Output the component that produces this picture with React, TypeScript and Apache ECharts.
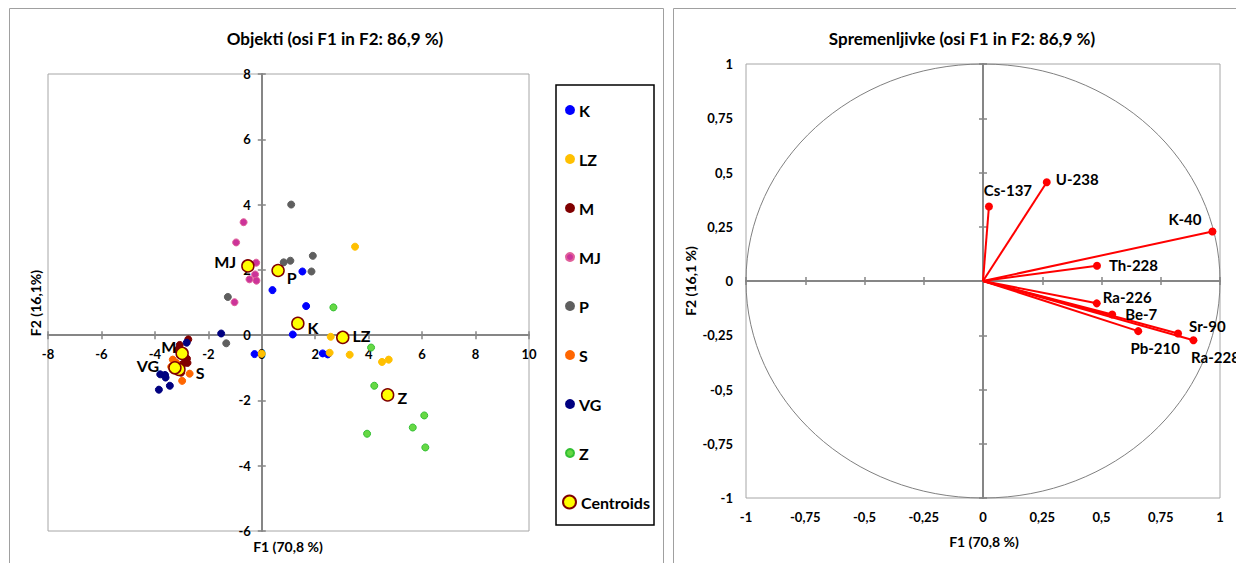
import React, { useEffect, useRef } from 'react';
import * as echarts from 'echarts';

const FONT = 'Lato, "Open Sans", sans-serif';

// ---------- Left chart: observations (F1, F2) ----------
const groupNames = ['K', 'LZ', 'M', 'MJ', 'P', 'S', 'VG', 'Z'];
const ptsK = [[1.52, 1.95], [0.4, 1.38], [1.66, 0.89], [1.16, 0.02], [-0.27, -0.58], [2.28, -0.56], [2.47, -0.59]];
const ptsLZ = [[3.49, 2.71], [2.58, -0.05], [2.54, -0.54], [3.29, -0.6], [4.5, -0.82], [4.75, -0.75], [0.0, -0.57]];
const ptsM = [[-2.75, -0.13], [-3.07, -0.3], [-2.8, -0.72], [-2.78, -0.85], [-2.95, -0.88], [-3.02, -1.15], [-3.15, -0.45]];
const ptsMJ = [[-0.68, 3.46], [-0.96, 2.84], [-0.21, 2.22], [-0.25, 1.86], [-0.46, 1.71], [-0.2, 1.67], [-1.02, 1.01]];
const ptsP = [[1.1, 4.0], [1.91, 2.43], [1.86, 1.95], [1.07, 2.28], [0.82, 2.23], [-1.27, 1.17], [-1.33, -0.25]];
const ptsS = [[-3.33, -0.75], [-3.39, -0.97], [-2.7, -1.18], [-2.98, -1.4], [-3.2, -0.85]];
const ptsVG = [[-1.52, 0.05], [-2.81, -0.23], [-3.8, -1.2], [-3.62, -1.22], [-3.6, -1.3], [-3.44, -1.55], [-3.85, -1.67]];
const ptsZ = [[2.68, 0.85], [4.09, -0.38], [4.21, -1.55], [3.94, -3.02], [6.08, -2.46], [5.65, -2.83], [6.12, -3.44]];
const groupPoints = [ptsK, ptsLZ, ptsM, ptsMJ, ptsP, ptsS, ptsVG, ptsZ];
const groupColors = ['#0000FF', '#FFC000', '#800000', '#CC3399', '#5F5F5F', '#FF6600', '#000080', '#66D844'];
const groupBorders = ['#0000FF', '#FFC000', '#800000', '#E0609A', '#5F5F5F', '#FF6600', '#000080', '#33C033'];

const centroidNames = ['K', 'LZ', 'M', 'MJ', 'P', 'S', 'VG', 'Z'];
const centroidF1 = [1.35, 3.03, -2.98, -0.52, 0.61, -3.1, -3.25, 4.71];
const centroidF2 = [0.36, -0.07, -0.56, 2.12, 1.98, -1.05, -1.0, -1.83];

// ---------- Right chart: variables (correlation circle) ----------
const varNames = ['Cs-137', 'U-238', 'K-40', 'Th-228', 'Ra-226', 'Be-7', 'Pb-210', 'Sr-90', 'Ra-228'];
const varF1 = [0.025, 0.269, 0.968, 0.481, 0.48, 0.545, 0.655, 0.823, 0.888];
const varF2 = [0.343, 0.455, 0.228, 0.07, -0.103, -0.154, -0.231, -0.242, -0.273];

const leftTitle = 'Objekti (osi F1 in F2: 86,9 %)';
const rightTitle = 'Spremenljivke (osi F1 in F2: 86,9 %)';
const leftXName = 'F1 (70,8 %)';
const leftYName = 'F2 (16,1%)';
const rightXName = 'F1 (70,8 %)';
const rightYName = 'F2 (16,1 %)';

const AX = '#868686';
const tickLabel = { color: '#000', fontWeight: 'bold', fontSize: 13, fontFamily: FONT } as any;
const fmtComma = (v: number) => String(v).replace('.', ',');

const centroidLabelCfg: Record<string, any> = {
  K: { position: 'right', offset: [-2, 4] },
  LZ: { position: 'right', offset: [-2, -2] },
  M: { position: 'left', offset: [6, -7] },
  MJ: { position: 'left', offset: [0, -4] },
  P: { position: 'right', offset: [-3, 7] },
  S: { position: 'right', offset: [5, 3] },
  VG: { position: 'left', offset: [-4, -2] },
  Z: { position: 'right', offset: [-2, 3] },
};

const varLabelCfg: Record<string, any> = {
  'Cs-137': { position: 'top', offset: [19, 0] },
  'U-238': { position: 'right', offset: [0, -3] },
  'K-40': { position: 'left', offset: [-2, -13] },
  'Th-228': { position: 'right', offset: [3, -1] },
  'Ra-226': { position: 'right', offset: [-3, -6] },
  'Be-7': { position: 'right', offset: [4, 0] },
  'Pb-210': { position: 'bottom', offset: [17, 0] },
  'Sr-90': { position: 'right', offset: [2, -8] },
  'Ra-228': { position: 'bottom', offset: [22, 0] },
};

function valueAxisBase(extra: any) {
  return {
    type: 'value',
    splitLine: { show: false },
    ...extra,
  };
}

const LEFT_GRID = { left: 48, top: 74, width: 481, height: 457 };
const RIGHT_GRID = { left: 746, top: 64, width: 474, height: 434 };

export default function App() {
  const ref = useRef<HTMLDivElement>(null);
  useEffect(() => {
    if (!ref.current) return;
    const chart = echarts.init(ref.current, null, { renderer: 'svg' });

    const leftX = { gridIndex: 0, min: -8, max: 10, interval: 2 };
    const leftY = { gridIndex: 0, min: -6, max: 8, interval: 2 };
    const rightX = { gridIndex: 1, min: -1, max: 1, interval: 0.25 };
    const rightY = { gridIndex: 1, min: -1, max: 1, interval: 0.25 };
    const tickStyle = { show: true, length: 4, lineStyle: { color: AX, width: 1.5 } };

    const xAxis = [
      // 0: left chart zero line, ticks down
      valueAxisBase({
        id: 'x0', ...leftX, position: 'bottom',
        axisLine: { show: true, onZero: true, onZeroAxisIndex: 0, lineStyle: { color: AX, width: 2 } },
        axisTick: tickStyle,
        axisLabel: { show: false },
      }),
      // 1: left chart zero line, ticks up
      valueAxisBase({
        id: 'x1', ...leftX, position: 'top',
        axisLine: { show: false, onZero: true, onZeroAxisIndex: 0 },
        axisTick: tickStyle,
        axisLabel: { show: false },
      }),
      // 2: right chart, labels at bottom
      valueAxisBase({
        id: 'x2', ...rightX, position: 'bottom',
        axisLine: { show: false, onZero: false },
        axisTick: { show: false },
        axisLabel: { ...tickLabel, margin: 12, formatter: fmtComma },
      }),
      // 3: right chart zero line, ticks down
      valueAxisBase({
        id: 'x3', ...rightX, position: 'bottom',
        axisLine: { show: true, onZero: true, onZeroAxisIndex: 2, lineStyle: { color: AX, width: 2 } },
        axisTick: tickStyle,
        axisLabel: { show: false },
      }),
      // 4: right chart zero line, ticks up
      valueAxisBase({
        id: 'x4', ...rightX, position: 'top',
        axisLine: { show: false, onZero: true, onZeroAxisIndex: 2 },
        axisTick: tickStyle,
        axisLabel: { show: false },
      }),
      // 5: left chart labels, shifted to the zero line below
      valueAxisBase({
        id: 'x5', ...leftX, position: 'bottom', offset: 0,
        axisLine: { show: false, onZero: false },
        axisTick: { show: false },
        axisLabel: { ...tickLabel, margin: 12 },
      }),
    ];
    const yAxis = [
      valueAxisBase({
        id: 'y0', ...leftY, position: 'left',
        axisLine: { show: true, onZero: true, onZeroAxisIndex: 0, lineStyle: { color: AX, width: 2 } },
        axisTick: tickStyle,
        axisLabel: { show: false },
      }),
      valueAxisBase({
        id: 'y1', ...leftY, position: 'right',
        axisLine: { show: false, onZero: true, onZeroAxisIndex: 0 },
        axisTick: tickStyle,
        axisLabel: { show: false },
      }),
      valueAxisBase({
        id: 'y2', ...rightY, position: 'left',
        axisLine: { show: false, onZero: false },
        axisTick: { show: false },
        axisLabel: { ...tickLabel, margin: 13, formatter: fmtComma },
      }),
      valueAxisBase({
        id: 'y3', ...rightY, position: 'left',
        axisLine: { show: true, onZero: true, onZeroAxisIndex: 2, lineStyle: { color: AX, width: 2 } },
        axisTick: tickStyle,
        axisLabel: { show: false },
      }),
      valueAxisBase({
        id: 'y4', ...rightY, position: 'right',
        axisLine: { show: false, onZero: true, onZeroAxisIndex: 2 },
        axisTick: tickStyle,
        axisLabel: { show: false },
      }),
      valueAxisBase({
        id: 'y5', ...leftY, position: 'left', offset: 0,
        axisLine: { show: false, onZero: false },
        axisTick: { show: false },
        axisLabel: { ...tickLabel, margin: 11 },
      }),
    ];

    const groupSeries = groupNames.map((n, i) => ({
      type: 'scatter',
      name: n,
      xAxisIndex: 0,
      yAxisIndex: 0,
      data: groupPoints[i],
      symbol: 'circle',
      symbolSize: 7,
      itemStyle: { color: groupColors[i], borderColor: groupBorders[i], borderWidth: 1, opacity: 1 },
      z: 3,
    }));

    const centroidSeries = {
      type: 'scatter',
      name: 'Centroids',
      xAxisIndex: 0,
      yAxisIndex: 0,
      symbol: 'circle',
      symbolSize: 12,
      itemStyle: { color: '#FFFF00', borderColor: '#800000', borderWidth: 1.5, opacity: 1 },
      z: 4,
      data: centroidNames.map((n, i) => ({
        name: n,
        value: [centroidF1[i], centroidF2[i]],
        label: {
          show: true,
          formatter: n,
          distance: 5,
          color: '#000',
          fontWeight: 'bold',
          fontSize: 16,
          fontFamily: FONT,
          ...centroidLabelCfg[n],
        },
      })),
    };

    const vectorSeries = {
      type: 'lines',
      coordinateSystem: 'cartesian2d',
      xAxisIndex: 2,
      yAxisIndex: 2,
      silent: true,
      symbol: 'none',
      lineStyle: { color: '#FF0000', width: 2, opacity: 1 },
      z: 3,
      data: varNames.map((n, i) => ({ coords: [[0, 0], [varF1[i], varF2[i]]] })),
    };

    const varPointSeries = {
      type: 'scatter',
      name: 'vars',
      xAxisIndex: 2,
      yAxisIndex: 2,
      symbol: 'circle',
      symbolSize: 8,
      itemStyle: { color: '#FF0000', opacity: 1 },
      z: 4,
      data: varNames.map((n, i) => ({
        name: n,
        value: [varF1[i], varF2[i]],
        label: {
          show: true,
          formatter: n,
          distance: 5,
          color: '#000',
          fontWeight: 'bold',
          fontSize: 15,
          fontFamily: FONT,
          ...varLabelCfg[n],
        },
      })),
    };

    const legendText = { color: '#000', fontWeight: 'bold', fontSize: 16, fontFamily: FONT, lineHeight: 15 };

    chart.setOption({
      animation: false,
      backgroundColor: '#ffffff',
      grid: [
        { ...LEFT_GRID, show: true, borderColor: '#A6A6A6', borderWidth: 1, backgroundColor: 'transparent' },
        { ...RIGHT_GRID, show: true, borderColor: '#A6A6A6', borderWidth: 1, backgroundColor: 'transparent' },
      ],
      xAxis,
      yAxis,
      legend: [
        {
          data: groupNames,
          orient: 'vertical',
          left: 565,
          top: 102,
          itemWidth: 8,
          itemHeight: 8,
          itemGap: 33,
          padding: 0,
          icon: 'circle',
          textStyle: legendText,
          selectedMode: false,
        },
        {
          data: ['Centroids'],
          orient: 'vertical',
          left: 562,
          top: 494,
          itemWidth: 13,
          itemHeight: 13,
          padding: 0,
          icon: 'circle',
          textStyle: legendText,
          selectedMode: false,
        },
      ],
      series: [...groupSeries, centroidSeries, vectorSeries, varPointSeries],
    });

    // Move the left chart's tick labels onto its zero lines.
    const z0 = chart.convertToPixel({ xAxisIndex: 0, yAxisIndex: 0 } as any, [0, 0]) as number[];
    const leftBottom = LEFT_GRID.top + LEFT_GRID.height;
    chart.setOption({
      xAxis: [{ id: 'x5', offset: z0[1] - leftBottom }],
      yAxis: [{ id: 'y5', offset: LEFT_GRID.left - z0[0] }],
    });

    const c = chart.convertToPixel({ xAxisIndex: 2, yAxisIndex: 2 } as any, [0, 0]) as number[];
    const p = chart.convertToPixel({ xAxisIndex: 2, yAxisIndex: 2 } as any, [1, 1]) as number[];
    const rx = p[0] - c[0];
    const ry = c[1] - p[1];

    const txt = (id: string, text: string, x: number, y: number, size: number, rot = 0) => ({
      id,
      type: 'text',
      x,
      y,
      rotation: rot,
      silent: true,
      z: 10,
      style: {
        text,
        fill: '#000',
        font: `bold ${size}px ${FONT}`,
        align: 'center',
        verticalAlign: 'middle',
      },
    });

    chart.setOption({
      graphic: [
        { id: 'boxL', type: 'rect', silent: true, z: 0, shape: { x: 9.5, y: 8.5, width: 654, height: 570 }, style: { fill: 'none', stroke: '#A0A0A0', lineWidth: 1 } },
        { id: 'boxR', type: 'rect', silent: true, z: 0, shape: { x: 673.5, y: 8.5, width: 600, height: 570 }, style: { fill: 'none', stroke: '#A0A0A0', lineWidth: 1 } },
        { id: 'legBox', type: 'rect', silent: true, z: 0, shape: { x: 556, y: 85, width: 98, height: 440 }, style: { fill: 'none', stroke: '#000', lineWidth: 1.5 } },
        { id: 'circle', type: 'ellipse', silent: true, z: 1, shape: { cx: c[0], cy: c[1], rx, ry }, style: { fill: 'none', stroke: '#808080', lineWidth: 1 } },
        txt('tL', leftTitle, 335, 38, 17),
        txt('tR', rightTitle, 962, 38, 17),
        txt('xL', leftXName, 288, 546, 14),
        txt('yL', leftYName, 35, 303, 14, Math.PI / 2),
        txt('xR', rightXName, 984, 541, 14),
        txt('yR', rightYName, 690, 281, 14, Math.PI / 2),
      ],
    });

    return () => chart.dispose();
  }, []);

  return (
    <div
      ref={ref}
      style={{ position: 'fixed', left: 0, top: 0, width: 1236, height: 563, background: '#fff' }}
    />
  );
}
